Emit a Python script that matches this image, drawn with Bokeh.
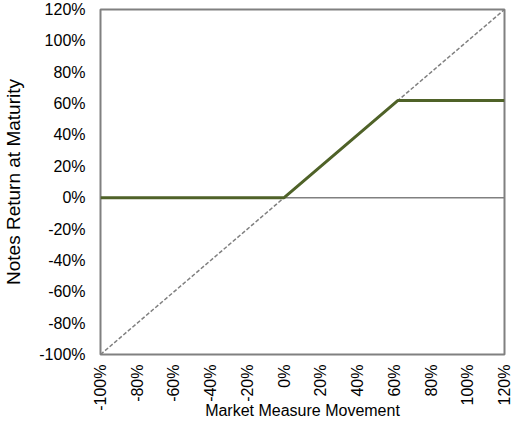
import math
from bokeh.plotting import figure
from bokeh.models import Range1d, Span, FixedTicker, PrintfTickFormatter
from bokeh.embed import file_html
from bokeh.resources import INLINE

# Data (percent)
market_move = [-100, 0, 62, 120]
notes_return = [0, 0, 62, 62]
ref_x = [-100, 120]
ref_y = [-100, 120]
ticks = [-100, -80, -60, -40, -20, 0, 20, 40, 60, 80, 100, 120]
x_title = "Market Measure Movement"
y_title = "Notes Return at Maturity"

GREY = "#808080"
GREEN = "#4F6228"
FONT = "Liberation Sans"

p = figure(frame_width=404, frame_height=345, output_backend="svg", toolbar_location=None,
           x_range=Range1d(-100, 120), y_range=Range1d(-100, 120),
           min_border_left=98, min_border_right=10, min_border_top=9, min_border_bottom=62)

p.xgrid.visible = False
p.ygrid.visible = False
p.outline_line_color = GREY
p.outline_line_width = 2
p.background_fill_color = "white"
p.border_fill_color = "white"

zero = Span(location=0, dimension="width", line_color=GREY, line_width=1.5, level="underlay")
p.add_layout(zero)

p.line(ref_x, ref_y, line_color=GREY, line_width=1.5, line_dash="4 2")
p.line(market_move, notes_return, line_color=GREEN, line_width=3)

for ax in (p.xaxis[0], p.yaxis[0]):
    ax.ticker = FixedTicker(ticks=ticks)
    ax.formatter = PrintfTickFormatter(format="%d%%")
    ax.axis_line_color = None
    ax.major_tick_line_color = None
    ax.minor_tick_line_color = None
    ax.major_tick_out = 0
    ax.major_tick_in = 0
    ax.minor_tick_out = 0
    ax.minor_tick_in = 0
    ax.major_label_text_font = FONT
    ax.major_label_text_font_size = "16px"
    ax.major_label_text_color = "#000000"
    ax.axis_label_text_font = FONT
    ax.axis_label_text_font_style = "normal"
    ax.axis_label_text_color = "#000000"

p.xaxis[0].axis_label = x_title
p.xaxis[0].axis_label_text_font_size = "16px"
p.xaxis[0].major_label_orientation = math.pi / 2
p.xaxis[0].major_label_standoff = 10
p.xaxis[0].axis_label_standoff = -12

p.yaxis[0].axis_label = y_title
p.yaxis[0].axis_label_text_font_size = "19px"
p.yaxis[0].major_label_standoff = 15
p.yaxis[0].axis_label_standoff = 12

open("out.html", "w").write(file_html(p, INLINE))
